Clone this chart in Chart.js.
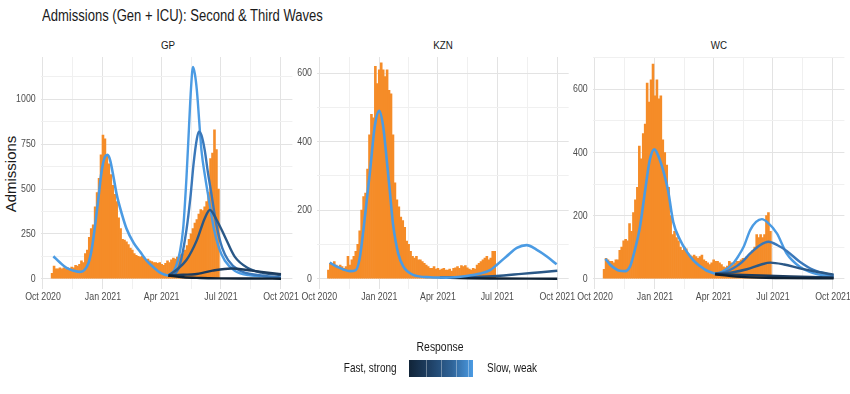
<!DOCTYPE html>
<html>
<head>
<meta charset="utf-8">
<title>Admissions (Gen + ICU): Second & Third Waves</title>
<script src="https://cdn.jsdelivr.net/npm/chart.js@4.4.0/dist/chart.umd.min.js"></script>
<style>
  html, body { margin: 0; padding: 0; overflow: hidden; background: #fff; }
  body { width: 850px; height: 394px; position: relative; font-family: 'Liberation Sans', Arial, sans-serif; color: #1a1a1a; }
  canvas { position: absolute; left: 0; top: 0; }
  .txt { position: absolute; white-space: nowrap; line-height: 1; }
  #title { left: 42px; top: 8px; font-size: 16px; transform: scaleX(0.815); transform-origin: 0 0; }
  .strip { top: 40px; font-size: 11.5px; transform: translateX(-50%) scaleX(0.85); }
  #ylab { left: 10px; top: 174px; font-size: 15px; transform: translate(-50%, -50%) rotate(-90deg); }
  #legTitle { left: 440px; top: 340px; font-size: 13px; transform: translateX(-50%) scaleX(0.8); }
  #legLeft { right: 453px; top: 361px; font-size: 13px; transform: scaleX(0.77); transform-origin: 100% 0; }
  #legRight { left: 487px; top: 361px; font-size: 13px; transform: scaleX(0.77); transform-origin: 0 0; }
  #colorbar { position: absolute; left: 409px; top: 360px; width: 64px; height: 17px; background: linear-gradient(to right, #112438, #1f4166, #2f6397, #4b9be3); }
  .cbtick { position: absolute; top: 0; width: 1px; height: 17px; background: rgba(255,255,255,0.35); }
</style>
</head>
<body>
<div id="title" class="txt">Admissions (Gen + ICU): Second &amp; Third Waves</div>
<div class="txt strip" style="left:168px">GP</div>
<div class="txt strip" style="left:443px">KZN</div>
<div class="txt strip" style="left:719px">WC</div>
<div id="ylab" class="txt">Admissions</div>

<canvas id="gp-chart" width="900" height="394"></canvas>
<canvas id="kzn-chart" width="900" height="394"></canvas>
<canvas id="wc-chart" width="900" height="394"></canvas>

<div id="legTitle" class="txt">Response</div>
<div id="legLeft" class="txt">Fast, strong</div>
<div id="colorbar">
  <div class="cbtick" style="left:17px"></div>
  <div class="cbtick" style="left:32px"></div>
  <div class="cbtick" style="left:47px"></div>
  <div class="cbtick" style="left:59px"></div>
</div>
<div id="legRight" class="txt">Slow, weak</div>

<script>
'use strict';

// GLOBALS
// x values are days since 1 Oct 2020, bars are 3-day bins
let binStart = 14;
let binStep = 3;

let monthTicks = [0, 92, 182, 273, 365];
let monthLabels = ['Oct 2020', 'Jan 2021', 'Apr 2021', 'Jul 2021', 'Oct 2021'];
let monthMinor = [46, 137, 227, 319];

let gpTicks = [0, 250, 500, 750, 1000];
let gpMinor = [125, 375, 625, 875, 1125];
let kznTicks = [0, 200, 400, 600];
let kznMinor = [100, 300, 500];
let wcTicks = [0, 200, 400, 600];
let wcMinor = [100, 300, 500, 700];

// admissions (bars)
let gpBars = [30, 70, 55, 55, 60, 55, 60, 55, 60, 55, 65, 60, 75, 70, 80, 100, 90, 140, 160, 230,
  280, 300, 400, 480, 560, 690, 800, 780, 690, 640, 580, 520, 470, 430, 340, 280, 220, 215, 205, 190,
  170, 160, 140, 130, 125, 120, 125, 115, 105, 110, 100, 95, 90, 90, 85, 90, 80, 75, 85, 100,
  90, 105, 115, 110, 120, 125, 135, 140, 160, 185, 220, 250, 280, 310, 330, 360, 385, 380, 400, 430,
  480, 670, 700, 830, 720, 500];
let kznBars = [25, 45, 45, 50, 40, 35, 40, 35, 30, 35, 65, 40, 55, 65, 80, 100, 140, 200, 240, 250,
  320, 420, 480, 470, 620, 570, 610, 630, 610, 590, 610, 550, 540, 420, 280, 230, 210, 180, 170, 150,
  110, 100, 80, 65, 60, 65, 55, 55, 50, 45, 40, 35, 30, 30, 35, 28, 30, 25, 28, 30,
  25, 25, 28, 22, 30, 32, 35, 30, 38, 35, 38, 32, 28, 25, 30, 28, 40, 45, 50, 55,
  60, 65, 55, 60, 80, 80];
let wcBars = [30, 65, 60, 55, 55, 50, 60, 60, 90, 100, 120, 125, 120, 175, 150, 210, 250, 290, 420, 380,
  460, 490, 620, 560, 630, 680, 580, 630, 570, 580, 440, 400, 360, 290, 200, 140, 150, 130, 120, 100,
  90, 100, 95, 80, 75, 70, 75, 70, 65, 70, 75, 60, 55, 50, 45, 50, 60, 55, 55, 50,
  45, 38, 35, 40, 55, 50, 45, 50, 55, 55, 60, 65, 65, 70, 75, 80, 90, 100, 140, 130,
  140, 130, 140, 200, 210, 150];

// fitted curves, r0 = fast/strong response ... r4 = slow/weak response
let gpFitDays = [16, 26, 36, 47, 57, 64, 70, 75, 80, 85, 90, 95, 99, 103, 108, 113, 121, 128, 139, 149, 159, 169, 179, 187, 192];
let gpFitVals = [125, 90, 60, 45, 38, 50, 90, 170, 300, 450, 600, 680, 690, 660, 570, 470, 360, 280, 200, 150, 100, 65, 35, 22, 18];
let gpR4Days = [192, 200, 205, 210, 215, 220, 224, 227, 230, 233, 236, 243, 249, 254, 262, 270, 279, 294, 315, 335, 365];
let gpR4Vals = [18, 40, 80, 150, 280, 560, 850, 1060, 1180, 1140, 1050, 717, 560, 450, 280, 170, 100, 45, 20, 14, 4];
let gpR3Days = [192, 200, 210, 220, 226, 231, 236, 239, 243, 248, 253, 258, 266, 275, 284, 300, 335, 365];
let gpR3Vals = [18, 22, 80, 271, 450, 643, 780, 820, 800, 717, 590, 480, 300, 170, 104, 48, 18, 6];
let gpR2Days = [192, 205, 220, 236, 248, 256, 266, 279, 294, 315, 335, 365];
let gpR2Vals = [18, 50, 104, 215, 336, 383, 330, 234, 123, 58, 34, 20];
let gpR1Days = [192, 215, 233, 260, 289, 320, 345, 365];
let gpR1Vals = [18, 22, 25, 45, 57, 45, 34, 25];
let gpR0Days = [192, 215, 241, 270, 320, 365];
let gpR0Vals = [18, 8, 4, 2, 1, 0];

let kznFitDays = [16, 27, 37, 47, 56, 62, 70, 78, 85, 92, 98, 103, 108, 113, 121, 129, 144, 170, 195, 226, 247, 262, 272, 287, 303, 318, 333, 349, 364];
let kznFitVals = [47, 35, 27, 22, 25, 60, 181, 317, 444, 490, 444, 356, 259, 161, 74, 35, 11, 4, 3, 8, 15, 25, 40, 65, 90, 98, 85, 65, 42];
let kznR2Days = [185, 230, 272, 310, 340, 365];
let kznR2Vals = [3, 5, 8, 14, 19, 23];
let kznR0Days = [185, 230, 272, 365];
let kznR0Vals = [3, 1, 0.5, 0];

let wcFitDays = [16, 23, 31, 38, 46, 54, 61, 69, 77, 84, 91, 97, 105, 112, 120, 130, 141, 151, 161, 171, 184];
let wcFitVals = [63, 45, 32, 25, 24, 40, 90, 165, 281, 376, 410, 390, 340, 280, 180, 125, 85, 58, 40, 26, 16];
let wcR4Days = [184, 195, 212, 220, 228, 238, 247, 256, 265, 279, 294, 314, 335, 366];
let wcR4Vals = [16, 22, 49, 72, 101, 154, 180, 189, 178, 144, 80, 38, 18, 6];
let wcR3Days = [184, 200, 212, 225, 238, 253, 266, 280, 294, 314, 335, 366];
let wcR3Vals = [16, 22, 33, 52, 80, 106, 117, 106, 88, 54, 28, 10];
let wcR2Days = [184, 210, 233, 255, 269, 290, 314, 340, 366];
let wcR2Vals = [16, 20, 30, 45, 51, 45, 33, 22, 13];
let wcR1Days = [184, 240, 300, 366];
let wcR1Vals = [15, 11, 7, 4];
let wcR0Days = [184, 230, 290, 366];
let wcR0Vals = [14, 5, 2, 1];

let responseColors = ['#0f2133', '#1c3b5d', '#2a5887', '#3a78ba', '#4b9be3'];
let barColor = '#f58c28';


// LAYOUT
let canvasWidth = 900;
let canvasHeight = 394;
let plotTop = 57;
let plotBottom = 289;
let yAxisWidth = 30;
let xAxisHeight = 20;
let tickFont = "11px 'Liberation Sans', Arial, sans-serif";
let tickSquash = 0.8;

Chart.defaults.font.family = "'Liberation Sans', Arial, sans-serif";
Chart.defaults.color = '#4d4d4d';


// UTILITIES
function toPoints(days, vals) {
  let pts = [];
  for (let i = 0; i < days.length; i++) {
    pts.push({x: days[i], y: vals[i]});
  }
  return pts;
}

function toBars(vals) {
  let pts = [];
  for (let i = 0; i < vals.length; i++) {
    pts.push({x: binStart + i * binStep, y: vals[i]});
  }
  return pts;
}

function lineSet(days, vals, color, width, order) {
  return {
    type: 'line',
    data: toPoints(days, vals),
    borderColor: color,
    borderWidth: width,
    pointRadius: 0,
    cubicInterpolationMode: 'monotone',
    fill: false,
    order: order
  };
}

// the reference uses a condensed face, squash tick text horizontally
function drawNarrow(ctx, text, x, y, align) {
  ctx.save();
  ctx.translate(x, y);
  ctx.scale(tickSquash, 1);
  ctx.textAlign = align;
  ctx.fillText(text, 0, 0);
  ctx.restore();
}

let narrowTicks = {
  id: 'narrowTicks',
  afterDraw(chart, args, opts) {
    let ctx = chart.ctx;
    let xs = chart.scales.x;
    let ys = chart.scales.y;
    ctx.save();
    ctx.fillStyle = '#4d4d4d';
    ctx.font = tickFont;
    ctx.textBaseline = 'middle';
    for (let i = 0; i < monthTicks.length; i++) {
      drawNarrow(ctx, monthLabels[i], xs.getPixelForValue(monthTicks[i]), chart.chartArea.bottom + 8, 'center');
    }
    for (let i = 0; i < opts.yTicks.length; i++) {
      drawNarrow(ctx, String(opts.yTicks[i]), chart.chartArea.left - 5, ys.getPixelForValue(opts.yTicks[i]), 'right');
    }
    ctx.restore();
  }
};

// builds one facet, each facet is its own chart on an overlapping canvas
function makePanel(id, bars, lines, yTicks, yMinor, yMin, yMax, plotLeft, plotRight) {
  let datasets = lines.slice();
  datasets.push({
    type: 'bar',
    data: toBars(bars),
    backgroundColor: barColor,
    borderWidth: 0,
    barPercentage: 1,
    categoryPercentage: 1,
    order: 20
  });

  let config = {
    type: 'bar',
    data: {datasets: datasets},
    plugins: [narrowTicks],
    options: {
      responsive: false,
      animation: false,
      events: [],
      layout: {
        padding: {
          left: plotLeft - yAxisWidth,
          right: canvasWidth - plotRight,
          top: plotTop,
          bottom: canvasHeight - plotBottom - xAxisHeight
        }
      },
      plugins: {
        legend: {display: false},
        tooltip: {enabled: false},
        narrowTicks: {yTicks: yTicks}
      },
      scales: {
        x: {
          type: 'linear',
          min: -3.5,
          max: 382.5,
          offset: false,
          border: {display: false},
          grid: {
            offset: false,
            drawTicks: false,
            color: (c) => (c.tick && monthTicks.includes(c.tick.value)) ? '#e3e3e3' : '#f0f0f0',
            lineWidth: 1
          },
          afterBuildTicks: (axis) => {
            axis.ticks = monthTicks.concat(monthMinor).sort((a, b) => a - b).map((v) => ({value: v}));
          },
          afterFit: (axis) => { axis.height = xAxisHeight; },
          ticks: {display: false}
        },
        y: {
          type: 'linear',
          min: yMin,
          max: yMax,
          border: {display: false},
          grid: {
            drawTicks: false,
            color: (c) => (c.tick && yTicks.includes(c.tick.value)) ? '#e3e3e3' : '#f0f0f0',
            lineWidth: 1
          },
          afterBuildTicks: (axis) => {
            axis.ticks = yTicks.concat(yMinor).sort((a, b) => a - b).map((v) => ({value: v}));
          },
          afterFit: (axis) => { axis.width = yAxisWidth; },
          ticks: {display: false}
        }
      }
    }
  };
  return new Chart(document.getElementById(id), config);
}


// PANELS
makePanel('gp-chart', gpBars, [
  lineSet(gpFitDays, gpFitVals, responseColors[4], 2.6, 1),
  lineSet(gpR4Days, gpR4Vals, responseColors[4], 2.4, 6),
  lineSet(gpR3Days, gpR3Vals, responseColors[3], 2.4, 5),
  lineSet(gpR2Days, gpR2Vals, responseColors[2], 2.4, 4),
  lineSet(gpR1Days, gpR1Vals, responseColors[1], 2.4, 3),
  lineSet(gpR0Days, gpR0Vals, responseColors[0], 2.4, 2)
], gpTicks, gpMinor, -57.4, 1235.8, 40.7, 292.4);

makePanel('kzn-chart', kznBars, [
  lineSet(kznFitDays, kznFitVals, responseColors[4], 2.6, 1),
  lineSet(kznR2Days, kznR2Vals, responseColors[2], 2.4, 3),
  lineSet(kznR0Days, kznR0Vals, responseColors[0], 2.4, 2)
], kznTicks, kznMinor, -30.1, 647.3, 317, 568.7);

makePanel('wc-chart', wcBars, [
  lineSet(wcFitDays, wcFitVals, responseColors[4], 2.6, 1),
  lineSet(wcR4Days, wcR4Vals, responseColors[4], 2.4, 6),
  lineSet(wcR3Days, wcR3Vals, responseColors[3], 2.4, 5),
  lineSet(wcR2Days, wcR2Vals, responseColors[2], 2.4, 4),
  lineSet(wcR1Days, wcR1Vals, responseColors[1], 2.4, 3),
  lineSet(wcR0Days, wcR0Vals, responseColors[0], 2.4, 2)
], wcTicks, wcMinor, -32.6, 702.7, 592.7, 844.4);
</script>
</body>
</html>
